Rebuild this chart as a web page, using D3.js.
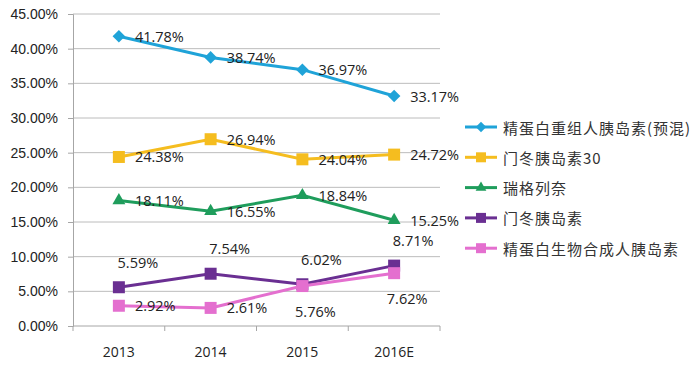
<!DOCTYPE html>
<html>
<head>
<meta charset="utf-8">
<script src="https://cdn.jsdelivr.net/npm/d3@7"></script>
<style>
  body { margin: 0; background: #fff; }
  svg { font-family: "Open Sans", "Noto Sans CJK SC", sans-serif; }
</style>
</head>
<body>
<div id="chart"></div>
<script>
var years = ["2013", "2014", "2015", "2016E"];
var seriesNames = ["精蛋白重组人胰岛素(预混)", "门冬胰岛素30", "瑞格列奈", "门冬胰岛素", "精蛋白生物合成人胰岛素"];
var seriesColors = ["#1fa3d8", "#f5bd1f", "#1f9d5c", "#6a2f92", "#e46fcf"];
var seriesMarkers = ["diamond", "square", "triangle", "square", "square"];
var values = [
	[41.78, 38.74, 36.97, 33.17],
	[24.38, 26.94, 24.04, 24.72],
	[18.11, 16.55, 18.84, 15.25],
	[5.59, 7.54, 6.02, 8.71],
	[2.92, 2.61, 5.76, 7.62]
];
// where each data label sits relative to its point
var labelPlace = [
	["right", "right", "right", "right"],
	["right", "right", "right", "right"],
	["right", "right", "right", "right"],
	["above", "above", "above", "above"],
	["right", "right", "below", "below"]
];
var yTicks = [0, 5, 10, 15, 20, 25, 30, 35, 40, 45];

var width = 700, height = 367;
var margin = { left: 73, right: 260, top: 14, bottom: 41 };

var svg = d3.select("#chart").append("svg")
	.attr("width", width)
	.attr("height", height);

var xscale = d3.scaleBand()
	.domain(years)
	.range([margin.left, width - margin.right])
	.padding(0);

var yscale = d3.scaleLinear()
	.domain([0, 45])
	.range([height - margin.bottom, margin.top]);

// gridlines
svg.append("g")
	.selectAll("line").data(yTicks.slice(1))
	.enter().append("line")
		.attr("x1", margin.left)
		.attr("x2", width - margin.right)
		.attr("y1", function(d){ return yscale(d); })
		.attr("y2", function(d){ return yscale(d); })
		.attr("stroke", "#bcbcbc")
		.attr("stroke-width", 1);

// y axis
var yAxis = svg.append("g")
	.attr("transform", "translate(" + margin.left + ",0)")
	.call(d3.axisLeft(yscale).tickValues(yTicks).tickSize(5).tickPadding(10)
		.tickFormat(function(d){ return d.toFixed(2) + "%"; }));
yAxis.selectAll("line, path").attr("stroke", "#a6a6a6");
yAxis.selectAll("text").attr("font-size", 14).attr("fill", "#222");

// x axis with ticks between categories
var xAxis = svg.append("g")
	.attr("transform", "translate(0," + yscale(0) + ")");
xAxis.append("line")
	.attr("x1", margin.left).attr("x2", width - margin.right)
	.attr("stroke", "#a6a6a6");
var bounds = years.map(function(d){ return xscale(d); }).concat([xscale.range()[1]]);
xAxis.selectAll(".tk").data(bounds)
	.enter().append("line")
		.attr("class", "tk")
		.attr("x1", function(d){ return d; })
		.attr("x2", function(d){ return d; })
		.attr("y1", 0).attr("y2", 5)
		.attr("stroke", "#a6a6a6");
xAxis.selectAll("text").data(years)
	.enter().append("text")
		.attr("x", function(d){ return xscale(d) + xscale.bandwidth() / 2; })
		.attr("y", 31)
		.attr("text-anchor", "middle")
		.attr("font-size", 14)
		.attr("fill", "#222")
		.text(function(d){ return d; });

function cx(i){ return xscale(years[i]) + xscale.bandwidth() / 2; }

function marker(sel, type, size, color){
	if (type == "diamond") {
		sel.append("path")
			.attr("d", d3.symbol().type(d3.symbolSquare).size(size * size * 0.55))
			.attr("transform", "rotate(45)")
			.attr("fill", color);
		return;
	}
	var sym = type == "triangle" ? d3.symbolTriangle : d3.symbolSquare;
	var area = type == "triangle" ? size * size * 0.5 : size * size;
	sel.append("path")
		.attr("d", d3.symbol().type(sym).size(area))
		.attr("fill", color);
}

var line = d3.line()
	.x(function(d,i){ return cx(i); })
	.y(function(d){ return yscale(d); });

values.forEach(function(vals, s){
	var g = svg.append("g");
	g.append("path")
		.attr("d", line(vals))
		.attr("fill", "none")
		.attr("stroke", seriesColors[s])
		.attr("stroke-width", 3);
	vals.forEach(function(v, i){
		var m = g.append("g")
			.attr("transform", "translate(" + cx(i) + "," + yscale(v) + ")");
		marker(m, seriesMarkers[s], 12, seriesColors[s]);
	});
});

// data labels drawn on top
values.forEach(function(vals, s){
	vals.forEach(function(v, i){
		var place = labelPlace[s][i];
		var x = cx(i), y = yscale(v);
		var t = svg.append("text")
			.attr("font-size", 14.5)
			.attr("fill", "#222")
			.attr("dominant-baseline", "central")
			.text(v.toFixed(2) + "%");
		if (place == "right") {
			t.attr("x", x + 16).attr("y", y);
		} else if (place == "above") {
			t.attr("x", x + 19).attr("y", y - 25).attr("text-anchor", "middle");
		} else {
			t.attr("x", x + 13).attr("y", y + 25).attr("text-anchor", "middle");
		}
	});
});

// legend
var legend = svg.append("g")
	.attr("transform", "translate(465,127)");
seriesNames.forEach(function(name, s){
	var row = legend.append("g").attr("transform", "translate(0," + (s * 30.3) + ")");
	row.append("line")
		.attr("x1", 0).attr("x2", 32)
		.attr("stroke", seriesColors[s])
		.attr("stroke-width", 3);
	var m = row.append("g").attr("transform", "translate(16,0)");
	marker(m, seriesMarkers[s], 10, seriesColors[s]);
	row.append("text")
		.attr("x", 38)
		.attr("y", 0)
		.attr("dominant-baseline", "central")
		.attr("font-family", "'Noto Sans CJK SC', sans-serif")
		.attr("font-size", 15)
		.attr("letter-spacing", 1)
		.attr("fill", "#333")
		.text(name);
});
</script>
</body>
</html>
